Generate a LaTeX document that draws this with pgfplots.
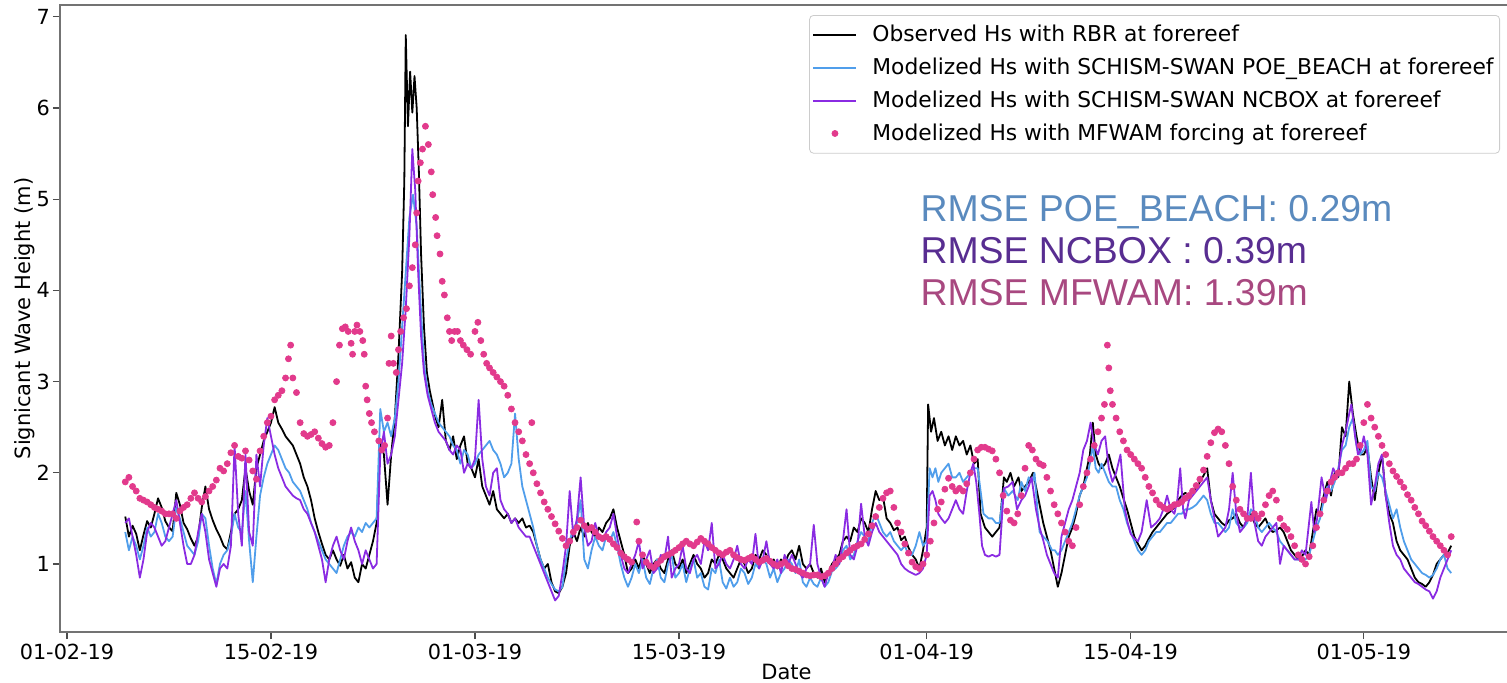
\documentclass[border=0pt]{standalone}
\usepackage{fontspec}
\setmainfont{DejaVu Sans}
\newfontfamily\rmsefont{Liberation Sans}
\usepackage{pgfplots}
\pgfplotsset{compat=1.18}
\definecolor{poe}{RGB}{80,158,235}
\definecolor{ncb}{RGB}{138,43,226}
\definecolor{mfw}{RGB}{226,58,140}
\definecolor{rpoe}{RGB}{90,138,190}
\definecolor{rncb}{RGB}{88,45,145}
\definecolor{rmfw}{RGB}{168,72,128}
\begin{document}
\begin{tikzpicture}
\begin{axis}[
  scale only axis,
  width=726.5pt, height=313.5pt,
  xmin=-0.48, xmax=99.24,
  ymin=0.254, ymax=7.13,
  xtick={0,14,28,42,59,73,89},
  xticklabels={01-02-19,15-02-19,01-03-19,15-03-19,01-04-19,15-04-19,01-05-19},
  ytick={1,2,3,4,5,6,7},
  tick align=outside,
  tick pos=left,
  major tick length=3.5pt,
  tick style={black!70, line width=0.6pt},
  axis line style={black!55, line width=0.8pt},
  ticklabel style={font=\fontsize{10.4}{12}\selectfont},
  yticklabel style={xshift=2pt},
  xticklabel style={yshift=1pt},
  /pgf/number format/assume math mode=true,
  xlabel={Date},
  ylabel={Signicant Wave Height (m)},
  label style={font=\fontsize{10.5}{12}\selectfont},
  xlabel style={at={(axis description cs:0.5,-0.0638)}, anchor=center},
  ylabel style={at={(axis description cs:-0.0245,0.5)}, anchor=center},
  legend style={at={(1,1)}, anchor=north east, xshift=-6.5pt, yshift=-5pt,
    draw=black!20, rounded corners=2pt, fill=white,
    font=\fontsize{10.9}{13}\selectfont, row sep=2.6pt, inner xsep=1.5pt, inner ysep=3pt,
    nodes={inner xsep=1.5pt},
    /tikz/every odd column/.append style={column sep=6pt}},
  legend cell align=left,
  legend image code/.code={\draw[mark repeat=2,mark phase=2,#1] plot coordinates {(0pt,0pt) (10.75pt,0pt) (21.5pt,0pt)};},
]
\addplot[black, line width=0.9pt, line join=round] table {
4.0 1.52
4.25 1.30
4.5 1.42
4.75 1.33
5.0 1.15
5.25 1.32
5.5 1.47
5.75 1.40
6.0 1.55
6.25 1.72
6.5 1.62
6.75 1.47
7.0 1.40
7.25 1.36
7.5 1.78
7.75 1.65
8.0 1.45
8.25 1.38
8.5 1.28
8.75 1.20
9.0 1.30
9.25 1.62
9.5 1.85
9.75 1.60
10.0 1.48
10.25 1.38
10.5 1.30
10.75 1.20
11.0 1.16
11.25 1.35
11.5 1.55
11.75 1.60
12.0 1.70
12.25 2.05
12.5 1.80
12.75 1.65
13.0 2.05
13.25 2.20
13.5 2.35
13.75 2.45
14.0 2.55
14.25 2.72
14.5 2.55
14.75 2.48
15.0 2.40
15.25 2.35
15.5 2.30
15.75 2.20
16.0 2.10
16.25 1.95
16.5 1.85
16.75 1.70
17.0 1.50
17.25 1.35
17.5 1.22
17.75 1.10
18.0 1.05
18.25 1.15
18.5 1.05
18.75 0.98
19.0 1.10
19.25 0.95
19.5 1.02
19.75 0.85
20.0 0.80
20.25 1.00
20.5 0.95
20.75 1.10
21.0 1.25
21.25 1.45
21.5 2.35
21.75 2.20
22.0 1.65
22.25 2.20
22.5 2.60
22.75 3.30
23.0 4.20
23.15 5.20
23.25 6.80
23.4 5.80
23.55 6.40
23.7 5.95
23.85 6.35
24.0 6.00
24.15 5.30
24.3 4.40
24.5 3.60
24.7 3.10
24.9 2.90
25.1 2.75
25.3 2.60
25.5 2.50
25.75 2.80
26.0 2.35
26.25 2.25
26.5 2.40
26.75 2.15
27.0 2.30
27.25 2.40
27.5 2.10
27.75 2.05
28.0 1.95
28.25 2.15
28.5 1.85
28.75 1.75
29.0 1.65
29.25 1.80
29.5 1.60
29.75 1.55
30.0 1.50
30.25 1.55
30.5 1.45
30.75 1.50
31.0 1.45
31.25 1.50
31.5 1.40
31.75 1.42
32.0 1.35
32.25 1.20
32.5 1.05
32.75 0.95
33.0 1.00
33.25 0.80
33.5 0.70
33.75 0.68
34.0 0.75
34.25 0.90
34.5 1.20
34.75 1.35
35.0 1.25
35.25 1.40
35.5 1.30
35.75 1.45
36.0 1.35
36.25 1.30
36.5 1.40
36.75 1.35
37.0 1.45
37.25 1.50
37.5 1.60
37.75 1.40
38.0 1.25
38.25 1.10
38.5 0.90
38.75 0.95
39.0 1.05
39.25 0.95
39.5 1.10
39.75 1.00
40.0 0.90
40.25 1.00
40.5 1.05
40.75 0.95
41.0 0.90
41.25 1.05
41.5 1.15
41.75 1.00
42.0 0.95
42.25 1.05
42.5 0.90
42.75 1.00
43.0 1.10
43.25 1.00
43.5 0.95
43.75 0.85
44.0 0.90
44.25 1.05
44.5 1.00
44.75 1.10
45.0 1.05
45.25 0.95
45.5 0.90
45.75 0.85
46.0 0.95
46.25 1.05
46.5 1.00
46.75 0.90
47.0 0.95
47.25 1.10
47.5 1.05
47.75 1.15
48.0 1.10
48.25 1.00
48.5 1.05
48.75 0.95
49.0 1.05
49.25 1.00
49.5 1.10
49.75 1.15
50.0 1.05
50.25 1.20
50.5 1.00
50.75 0.95
51.0 1.00
51.25 0.90
51.5 0.85
51.75 0.95
52.0 0.80
52.25 0.90
52.5 1.00
52.75 1.05
53.0 1.10
53.25 1.25
53.5 1.30
53.75 1.25
54.0 1.40
54.25 1.35
54.5 1.50
54.75 1.45
55.0 1.35
55.25 1.60
55.5 1.80
55.75 1.70
56.0 1.74
56.25 1.50
56.5 1.45
56.75 1.37
57.0 1.40
57.25 1.26
57.5 1.30
57.75 1.18
58.0 1.10
58.25 1.05
58.5 0.95
58.75 1.15
59.0 1.40
59.1 2.75
59.3 2.45
59.5 2.60
59.75 2.35
60.0 2.45
60.25 2.30
60.5 2.40
60.75 2.25
61.0 2.40
61.25 2.30
61.5 2.35
61.75 2.20
62.0 2.30
62.25 2.10
62.5 2.15
62.7 1.55
63.0 1.40
63.25 1.35
63.5 1.30
63.75 1.35
64.0 1.40
64.3 1.95
64.5 1.90
64.75 2.00
65.0 1.85
65.3 1.95
65.5 1.80
65.75 1.85
66.0 1.90
66.3 2.00
66.5 1.85
66.75 1.65
67.0 1.45
67.25 1.30
67.5 1.15
67.75 0.95
68.0 0.75
68.25 0.90
68.5 1.10
68.75 1.30
69.0 1.40
69.25 1.55
69.5 1.75
69.75 1.85
70.0 2.05
70.2 2.20
70.4 2.55
70.6 2.20
70.8 2.10
71.0 2.05
71.25 2.10
71.5 2.20
71.75 2.05
72.0 1.95
72.25 1.85
72.5 1.72
72.75 1.60
73.0 1.45
73.25 1.30
73.5 1.22
73.75 1.15
74.0 1.20
74.25 1.28
74.5 1.35
74.75 1.40
75.0 1.45
75.25 1.50
75.5 1.55
75.75 1.58
76.0 1.62
76.25 1.70
76.5 1.75
76.75 1.78
77.0 1.75
77.25 1.80
77.5 1.83
77.75 1.90
78.0 1.97
78.25 2.05
78.5 1.70
78.75 1.55
79.0 1.50
79.25 1.45
79.5 1.42
79.75 1.48
80.0 1.50
80.25 1.55
80.5 1.45
80.75 1.40
81.0 1.50
81.25 1.55
81.5 1.45
81.75 1.40
82.0 1.45
82.25 1.50
82.5 1.40
82.75 1.35
83.0 1.37
83.25 1.40
83.5 1.35
83.75 1.25
84.0 1.15
84.25 1.10
84.5 1.05
84.75 1.08
85.0 1.15
85.25 1.10
85.5 1.35
85.75 1.60
86.0 1.55
86.25 1.75
86.5 1.90
86.75 1.75
87.0 2.00
87.25 1.95
87.5 2.50
87.75 2.40
88.0 3.00
88.25 2.65
88.5 2.40
88.75 2.20
89.0 2.20
89.25 2.28
89.5 1.95
89.75 1.70
90.0 2.00
90.25 2.20
90.5 1.75
90.75 1.55
91.0 1.45
91.25 1.25
91.5 1.15
91.75 1.10
92.0 1.05
92.25 0.95
92.5 0.85
92.75 0.80
93.0 0.78
93.25 0.75
93.5 0.80
93.75 0.88
94.0 1.00
94.25 1.05
94.5 1.10
94.75 1.12
95.0 1.20
};
\addlegendentry{Observed Hs with RBR at forereef}
\addplot[poe, line width=0.9pt, line join=round] table {
4.0 1.35
4.25 1.15
4.5 1.30
4.75 1.20
5.0 1.05
5.25 1.20
5.5 1.40
5.75 1.30
6.0 1.35
6.25 1.55
6.5 1.45
6.75 1.30
7.0 1.25
7.25 1.30
7.5 1.62
7.75 1.50
8.0 1.35
8.25 1.20
8.5 1.15
8.75 1.10
9.0 1.25
9.25 1.55
9.5 1.50
9.75 1.20
10.0 0.95
10.25 0.78
10.5 1.00
10.75 1.10
11.0 1.15
11.25 1.30
11.5 1.55
11.75 1.40
12.0 1.35
12.25 1.80
12.5 1.25
12.75 0.80
13.0 1.30
13.25 1.75
13.5 1.95
13.75 2.10
14.0 2.20
14.25 2.30
14.5 2.25
14.75 2.15
15.0 2.05
15.25 2.00
15.5 1.90
15.75 1.85
16.0 1.80
16.25 1.70
16.5 1.60
16.75 1.45
17.0 1.35
17.25 1.25
17.5 1.15
17.75 1.05
18.0 1.00
18.25 0.95
18.5 0.90
18.75 1.05
19.0 1.20
19.25 1.30
19.5 1.35
19.75 1.30
20.0 1.40
20.25 1.35
20.5 1.45
20.75 1.40
21.0 1.45
21.25 1.50
21.5 2.70
21.75 2.45
22.0 2.55
22.25 2.40
22.5 2.60
22.75 3.00
23.0 3.60
23.25 4.20
23.5 4.80
23.75 5.05
24.0 4.70
24.25 3.90
24.5 3.20
24.75 2.90
25.0 2.75
25.25 2.65
25.5 2.55
25.75 2.50
26.0 2.45
26.25 2.40
26.5 2.30
26.75 2.25
27.0 2.10
27.25 2.25
27.5 2.20
27.75 2.05
28.0 2.10
28.25 2.20
28.5 2.25
28.75 2.30
29.0 2.35
29.25 2.25
29.5 2.20
29.75 2.10
30.0 1.95
30.25 2.00
30.5 2.10
30.75 2.65
31.0 2.15
31.25 1.85
31.5 1.70
31.75 1.55
32.0 1.40
32.25 1.20
32.5 1.05
32.75 0.95
33.0 0.85
33.25 0.78
33.5 0.72
33.75 0.70
34.0 0.75
34.25 1.05
34.5 1.25
34.75 1.40
35.0 1.45
35.25 1.70
35.5 1.05
35.75 0.95
36.0 1.15
36.25 1.30
36.5 1.20
36.75 1.15
37.0 1.30
37.25 1.25
37.5 1.35
37.75 1.20
38.0 1.00
38.25 0.85
38.5 0.75
38.75 0.85
39.0 1.00
39.25 0.90
39.5 1.05
39.75 0.85
40.0 0.78
40.25 0.95
40.5 1.05
40.75 0.85
41.0 0.80
41.25 1.00
41.5 1.10
41.75 0.85
42.0 0.90
42.25 1.00
42.5 0.80
42.75 0.95
43.0 1.05
43.25 0.85
43.5 0.90
43.75 0.75
44.0 0.72
44.25 0.95
44.5 0.90
44.75 1.05
45.0 0.80
45.25 0.73
45.5 0.85
45.75 0.75
46.0 0.80
46.25 0.95
46.5 0.90
46.75 0.78
47.0 0.85
47.25 1.00
47.5 0.95
47.75 1.05
48.0 1.00
48.25 0.85
48.5 0.95
48.75 0.80
49.0 0.90
49.25 0.95
49.5 1.05
49.75 1.00
50.0 0.90
50.25 1.05
50.5 0.80
50.75 0.75
51.0 0.85
51.25 0.78
51.5 0.75
51.75 0.85
52.0 0.75
52.25 0.80
52.5 0.92
52.75 0.95
53.0 1.00
53.25 1.15
53.5 1.20
53.75 1.05
54.0 1.10
54.25 1.25
54.5 1.35
54.75 1.30
55.0 1.25
55.25 1.45
55.5 1.55
55.75 1.45
56.0 1.35
56.25 1.30
56.5 1.35
56.75 1.25
57.0 1.20
57.25 1.15
57.5 1.20
57.75 1.10
58.0 1.10
58.25 1.20
58.5 1.35
58.75 1.20
59.0 1.25
59.2 2.05
59.4 1.95
59.6 2.05
59.8 1.90
60.0 2.00
60.25 2.05
60.5 2.10
60.75 1.95
61.0 1.95
61.25 2.00
61.5 1.90
61.75 1.95
62.0 2.00
62.25 2.05
62.5 2.05
62.7 1.80
62.9 1.55
63.25 1.50
63.5 1.50
63.75 1.45
64.0 1.45
64.3 1.83
64.6 1.75
64.9 1.80
65.25 1.70
65.5 1.90
65.75 1.80
66.0 1.95
66.25 1.90
66.4 2.00
66.6 1.60
66.75 1.35
67.0 1.30
67.3 1.25
67.6 1.15
67.8 1.15
68.0 1.10
68.25 1.15
68.5 1.25
68.75 1.35
69.0 1.45
69.25 1.60
69.5 1.75
69.75 1.85
70.0 1.95
70.2 2.10
70.4 2.30
70.6 2.05
70.8 2.00
71.0 2.10
71.25 2.00
71.5 1.90
71.75 1.85
72.0 1.85
72.25 1.70
72.5 1.60
72.75 1.45
73.0 1.35
73.25 1.25
73.5 1.15
73.75 1.10
74.0 1.15
74.25 1.25
74.5 1.30
74.75 1.35
75.0 1.35
75.25 1.40
75.5 1.45
75.75 1.45
76.0 1.50
76.25 1.55
76.5 1.55
76.75 1.60
77.0 1.60
77.25 1.62
77.5 1.65
77.75 1.70
78.0 1.75
78.25 1.70
78.5 1.55
78.75 1.45
79.0 1.45
79.25 1.40
79.5 1.35
79.75 1.40
80.0 1.60
80.25 1.45
80.5 1.40
80.75 1.40
81.0 1.45
81.25 1.60
81.5 1.55
81.75 1.40
82.0 1.35
82.25 1.40
82.5 1.45
82.75 1.40
83.0 1.35
83.25 1.25
83.5 1.20
83.75 1.15
84.0 1.10
84.25 1.05
84.5 1.05
84.75 1.03
85.0 1.05
85.25 1.10
85.5 1.25
85.75 1.40
86.0 1.50
86.25 1.70
86.5 1.85
86.75 1.80
87.0 1.90
87.25 2.05
87.5 2.25
87.75 2.30
88.0 2.50
88.25 2.60
88.5 2.30
88.75 2.20
89.0 2.25
89.25 2.35
89.5 1.85
89.75 1.80
90.0 2.00
90.25 1.95
90.5 1.80
90.75 1.65
91.0 1.50
91.25 1.60
91.5 1.40
91.75 1.25
92.0 1.15
92.25 1.05
92.5 1.00
92.75 0.95
93.0 0.90
93.25 0.88
93.5 0.85
93.75 0.88
94.0 0.95
94.25 1.05
94.5 1.10
94.75 0.95
95.0 0.90
};
\addlegendentry{Modelized Hs with SCHISM-SWAN POE\_BEACH at forereef}
\addplot[ncb, line width=0.9pt, line join=round] table {
4.0 1.45
4.25 1.50
4.5 1.30
4.75 1.10
5.0 0.85
5.25 1.05
5.5 1.35
5.75 1.45
6.0 1.40
6.25 1.30
6.5 1.20
6.75 1.25
7.0 1.40
7.25 1.55
7.5 1.70
7.75 1.45
8.0 1.20
8.25 1.00
8.5 1.00
8.75 1.10
9.0 1.35
9.25 1.55
9.5 1.35
9.75 1.05
10.0 0.90
10.25 0.75
10.5 0.95
10.75 1.00
11.0 0.95
11.25 1.20
11.5 2.30
11.75 1.55
12.0 1.20
12.25 2.20
12.5 1.35
12.75 1.20
13.0 2.20
13.25 1.85
13.5 2.30
13.75 2.60
14.0 2.40
14.25 2.20
14.5 2.05
14.75 1.95
15.0 1.85
15.25 1.80
15.5 1.75
15.75 1.72
16.0 1.70
16.25 1.60
16.5 1.55
16.75 1.45
17.0 1.35
17.25 1.20
17.5 1.05
17.75 0.80
18.0 1.05
18.25 1.20
18.5 1.30
18.75 1.15
19.0 1.05
19.25 1.25
19.5 1.40
19.75 1.25
20.0 1.15
20.25 1.00
20.5 1.15
20.75 1.05
21.0 0.95
21.25 1.00
21.5 2.20
21.75 2.45
22.0 2.10
22.25 2.20
22.5 2.40
22.75 2.80
23.0 3.20
23.25 3.80
23.5 4.60
23.7 5.55
23.9 5.10
24.1 4.20
24.3 3.50
24.5 3.10
24.75 2.85
25.0 2.70
25.25 2.55
25.5 2.45
25.75 2.40
26.0 2.35
26.25 2.25
26.5 2.20
26.75 2.30
27.0 2.25
27.25 2.00
27.5 2.10
27.75 2.05
28.0 2.15
28.25 2.80
28.5 2.15
28.75 1.85
29.0 1.75
29.25 2.00
29.5 2.05
29.75 1.70
30.0 1.60
30.25 1.55
30.5 1.45
30.75 1.50
31.0 1.40
31.25 1.35
31.5 1.30
31.75 1.30
32.0 1.20
32.25 1.10
32.5 1.00
32.75 0.90
33.0 0.80
33.25 0.70
33.5 0.60
33.75 0.65
34.0 0.90
34.25 1.20
34.5 1.80
34.75 1.30
35.0 1.50
35.25 1.95
35.5 1.40
35.75 1.20
36.0 1.25
36.25 1.45
36.5 1.30
36.75 1.25
37.0 1.35
37.25 1.40
37.5 1.55
37.75 1.30
38.0 1.10
38.25 0.95
38.5 0.90
38.75 1.00
39.0 1.10
39.25 1.25
39.5 0.95
39.75 1.05
40.0 1.15
40.25 0.90
40.5 0.95
40.75 1.10
41.0 1.05
41.25 1.30
41.5 0.85
41.75 0.95
42.0 1.00
42.25 1.20
42.5 0.95
42.75 0.90
43.0 1.05
43.25 1.10
43.5 1.00
43.75 1.25
44.0 1.15
44.25 1.45
44.5 0.95
44.75 1.00
45.0 1.10
45.25 1.00
45.5 0.95
45.75 1.05
46.0 1.20
46.25 1.00
46.5 0.95
46.75 1.05
47.0 1.00
47.25 1.33
47.5 0.95
47.75 1.05
48.0 1.25
48.25 1.00
48.5 0.95
48.75 1.05
49.0 0.90
49.25 1.10
49.5 1.00
49.75 1.10
50.0 1.00
50.25 0.90
50.5 0.85
50.75 0.95
51.0 1.00
51.25 1.43
51.5 1.00
51.75 0.85
52.0 0.75
52.25 0.90
52.5 0.95
52.75 1.10
53.0 1.00
53.25 1.25
53.5 1.60
53.75 1.10
54.0 1.05
54.25 1.20
54.5 1.66
54.75 1.30
55.0 1.20
55.25 1.35
55.5 1.45
55.75 1.35
56.0 1.30
56.25 1.25
56.5 1.20
56.75 1.15
57.0 1.10
57.25 1.00
57.5 0.95
57.75 0.92
58.0 0.90
58.25 0.88
58.5 0.90
58.75 0.95
59.0 1.10
59.2 1.75
59.4 1.80
59.6 1.70
59.8 1.55
60.0 1.50
60.25 1.45
60.5 1.50
60.75 1.60
61.0 1.70
61.25 1.60
61.5 1.55
61.75 1.80
62.0 2.00
62.2 2.10
62.4 1.90
62.6 1.58
62.8 1.20
63.0 1.10
63.25 1.08
63.5 1.10
63.75 1.08
64.0 1.10
64.3 1.83
64.6 1.85
64.9 1.90
65.2 1.60
65.5 1.70
65.75 1.75
66.0 1.85
66.2 1.95
66.5 1.60
66.75 1.40
67.0 1.26
67.25 1.10
67.5 1.00
67.75 0.90
68.0 0.85
68.25 1.30
68.5 1.45
68.75 1.60
69.0 1.70
69.25 1.85
69.5 2.00
69.75 2.25
70.0 2.35
70.25 2.55
70.5 2.30
70.75 2.20
71.0 2.35
71.25 2.40
71.5 2.05
71.75 1.90
72.0 2.00
72.3 2.20
72.6 1.60
72.8 1.45
73.0 1.33
73.25 1.28
73.5 1.25
73.75 1.35
74.1 1.70
74.4 1.40
74.75 1.45
75.0 1.50
75.25 1.60
75.5 1.75
75.75 1.60
76.0 1.55
76.2 1.70
76.4 2.05
76.6 1.60
76.75 1.50
77.0 1.70
77.25 1.75
77.5 1.80
77.75 1.85
78.0 1.90
78.25 1.95
78.5 1.70
78.75 1.50
79.0 1.30
79.25 1.35
79.5 1.40
79.75 1.60
80.0 2.00
80.25 1.55
80.5 1.35
80.75 1.40
81.0 1.50
81.25 2.00
81.5 1.45
81.75 1.25
82.0 1.20
82.25 1.30
82.5 1.35
82.75 1.40
83.0 1.45
83.25 1.00
83.5 1.20
83.75 1.15
84.0 1.10
84.25 1.05
84.5 1.05
84.75 1.15
85.0 1.10
85.4 1.68
85.6 1.35
85.8 1.50
86.1 1.95
86.4 1.70
86.6 1.85
86.9 2.05
87.2 1.95
87.5 2.30
87.75 2.45
88.0 2.65
88.15 2.75
88.4 2.40
88.6 2.20
88.8 2.25
89.0 2.40
89.25 2.20
89.5 1.65
89.75 1.85
90.0 2.10
90.25 2.20
90.5 1.75
90.75 1.45
91.0 1.20
91.25 1.10
91.5 1.05
91.75 0.95
92.0 0.90
92.25 0.85
92.5 0.80
92.75 0.78
93.0 0.75
93.25 0.72
93.5 0.70
93.75 0.62
94.0 0.70
94.25 0.85
94.5 0.95
94.75 1.05
95.0 1.15
};
\addlegendentry{Modelized Hs with SCHISM-SWAN NCBOX at forereef}
\addplot[only marks, mark=*, mark size=1.5pt, mfw, mark options={draw=none, fill=mfw}] table {
4.0 1.90
4.25 1.95
4.5 1.85
4.75 1.80
5.0 1.72
5.25 1.70
5.5 1.68
5.75 1.65
6.0 1.62
6.25 1.60
6.5 1.58
6.75 1.55
7.0 1.55
7.25 1.55
7.5 1.50
7.75 1.58
8.0 1.62
8.25 1.65
8.5 1.72
8.75 1.78
9.0 1.72
9.25 1.68
9.5 1.74
9.75 1.80
10.0 1.85
10.25 1.92
10.5 2.05
10.75 2.02
11.0 2.10
11.25 2.22
11.5 2.30
11.75 2.18
12.0 2.16
12.25 2.24
12.5 2.14
12.75 2.02
13.0 1.93
13.25 2.24
13.5 2.40
13.75 2.55
14.0 2.62
14.25 2.80
14.5 2.85
14.75 2.90
15.0 3.04
15.2 3.25
15.35 3.40
15.5 3.04
15.75 2.88
16.0 2.55
16.25 2.43
16.5 2.40
16.75 2.42
17.0 2.45
17.25 2.38
17.5 2.32
17.75 2.28
18.0 2.30
18.25 2.55
18.5 3.00
18.7 3.40
18.9 3.58
19.1 3.60
19.3 3.55
19.5 3.42
19.6 3.30
19.75 3.55
19.9 3.62
20.1 3.55
20.3 3.45
20.4 3.30
20.5 2.95
20.6 2.80
20.75 2.65
20.9 2.55
21.1 2.45
21.4 2.35
21.6 2.25
21.8 2.30
22.0 2.60
22.1 3.20
22.25 3.50
22.4 3.20
22.6 3.10
22.75 3.35
22.9 3.55
23.1 3.70
23.3 3.80
23.5 4.05
23.7 4.25
23.9 4.50
24.0 4.85
24.1 5.20
24.25 5.40
24.4 5.55
24.6 5.80
24.8 5.60
25.0 5.30
25.1 5.05
25.3 4.80
25.4 4.60
25.6 4.40
25.75 4.10
25.9 3.95
26.1 3.70
26.25 3.55
26.4 3.45
26.6 3.55
26.8 3.55
27.0 3.45
27.2 3.40
27.45 3.35
27.7 3.30
28.0 3.55
28.2 3.65
28.4 3.45
28.6 3.30
28.8 3.20
29.0 3.15
29.25 3.10
29.5 3.05
29.75 3.00
30.0 2.95
30.25 2.85
30.5 2.70
30.75 2.55
31.0 2.45
31.25 2.35
31.5 2.20
31.75 2.10
31.9 2.55
32.0 2.00
32.25 1.88
32.5 1.78
32.75 1.68
33.0 1.60
33.25 1.52
33.5 1.44
33.75 1.36
34.0 1.28
34.25 1.20
34.5 1.25
34.75 1.35
35.0 1.40
35.25 1.48
35.5 1.42
35.75 1.38
36.0 1.40
36.25 1.35
36.5 1.30
36.75 1.28
37.0 1.30
37.25 1.27
37.5 1.22
37.75 1.18
38.0 1.12
38.25 1.08
38.5 1.05
38.75 1.02
39.1 1.46
39.25 1.25
39.5 1.10
39.75 1.02
40.0 0.98
40.25 0.96
40.5 1.00
40.75 1.04
41.0 1.08
41.25 1.10
41.5 1.12
41.75 1.15
42.0 1.18
42.25 1.22
42.5 1.25
42.75 1.22
43.0 1.20
43.25 1.24
43.5 1.28
43.75 1.25
44.0 1.22
44.25 1.18
44.5 1.15
44.75 1.12
45.0 1.10
45.25 1.13
45.5 1.15
45.75 1.10
46.0 1.07
46.25 1.05
46.5 1.04
46.75 1.06
47.0 1.08
47.25 1.05
47.5 1.02
47.75 1.04
48.0 1.06
48.25 1.03
48.5 1.00
48.75 0.98
49.0 1.00
49.25 1.02
49.5 0.98
49.75 0.95
50.0 0.94
50.25 0.92
50.5 0.90
50.75 0.88
51.0 0.87
51.25 0.88
51.5 0.88
51.75 0.86
52.0 0.87
52.25 0.90
52.5 0.95
52.75 1.00
53.0 1.05
53.25 1.08
53.5 1.12
53.75 1.15
54.0 1.18
54.25 1.20
54.5 1.22
54.75 1.27
55.0 1.33
55.25 1.42
55.5 1.52
55.75 1.62
56.0 1.72
56.25 1.78
56.5 1.80
56.75 1.62
57.0 1.45
57.25 1.35
57.5 1.22
57.75 1.12
58.0 1.02
58.25 0.97
58.5 0.95
58.75 1.00
59.0 1.10
59.25 1.25
59.5 1.45
59.75 1.60
60.0 1.68
60.25 1.82
60.5 1.94
60.75 1.85
61.0 1.80
61.25 1.83
61.5 1.80
61.75 1.88
62.0 2.00
62.25 2.15
62.5 2.25
62.75 2.28
63.0 2.28
63.25 2.26
63.5 2.24
63.75 2.15
64.0 2.00
64.25 1.75
64.5 1.58
64.75 1.48
65.0 1.45
65.25 1.55
65.5 1.75
65.75 2.05
66.0 2.30
66.25 2.25
66.5 2.15
66.75 2.10
67.0 2.08
67.25 1.95
67.5 1.80
67.75 1.65
68.0 1.55
68.25 1.45
68.5 1.35
68.75 1.25
69.0 1.20
69.25 1.40
69.5 1.65
69.75 1.85
70.0 2.00
70.25 2.15
70.5 2.30
70.75 2.45
71.0 2.60
71.2 2.75
71.4 3.40
71.5 3.15
71.6 2.90
71.75 2.75
72.0 2.60
72.25 2.45
72.5 2.35
72.75 2.25
73.0 2.20
73.25 2.15
73.5 2.10
73.75 2.05
74.0 1.95
74.25 1.85
74.5 1.78
74.75 1.70
75.0 1.65
75.25 1.62
75.5 1.60
75.75 1.62
76.0 1.65
76.25 1.66
76.5 1.68
76.75 1.72
77.0 1.75
77.25 1.80
77.5 1.86
77.75 1.93
78.0 2.03
78.25 2.18
78.5 2.33
78.75 2.44
79.0 2.48
79.25 2.45
79.5 2.30
79.75 2.10
80.0 1.85
80.25 1.70
80.5 1.60
80.75 1.55
81.0 1.50
81.25 1.50
81.5 1.55
81.75 1.50
82.0 1.55
82.25 1.65
82.5 1.75
82.75 1.80
83.0 1.70
83.25 1.50
83.5 1.42
83.75 1.38
84.0 1.30
84.25 1.20
84.5 1.10
84.75 1.05
85.0 1.00
85.25 1.08
85.5 1.20
85.75 1.40
86.0 1.55
86.25 1.70
86.5 1.80
86.75 1.90
87.0 1.95
87.25 2.00
87.5 2.00
87.75 2.05
88.0 2.10
88.25 2.10
88.5 2.15
88.75 2.30
89.0 2.55
89.25 2.75
89.5 2.60
89.75 2.50
90.0 2.40
90.25 2.30
90.5 2.20
90.75 2.10
91.0 2.02
91.25 1.96
91.5 1.90
91.75 1.84
92.0 1.76
92.25 1.70
92.5 1.62
92.75 1.55
93.0 1.47
93.25 1.42
93.5 1.36
93.75 1.30
94.0 1.25
94.25 1.20
94.5 1.15
94.75 1.10
95.0 1.30
};
\addlegendentry{Modelized Hs with MFWAM forcing at forereef}
\node[anchor=base west, inner sep=0pt, text=rpoe, font=\rmsefont\fontsize{18.7}{22}\selectfont] at (rel axis cs:0.592,0.654) {RMSE POE\_BEACH: 0.29m};
\node[anchor=base west, inner sep=0pt, text=rncb, font=\rmsefont\fontsize{18.7}{22}\selectfont] at (rel axis cs:0.592,0.587) {RMSE NCBOX : 0.39m};
\node[anchor=base west, inner sep=0pt, text=rmfw, font=\rmsefont\fontsize{18.7}{22}\selectfont] at (rel axis cs:0.592,0.520) {RMSE MFWAM: 1.39m};
\end{axis}
\pgfresetboundingbox
\path[use as bounding box] ([xshift=-30pt,yshift=-25pt]current axis.south west) rectangle ([xshift=-3pt,yshift=2.5pt]current axis.north east);
\end{tikzpicture}
\end{document}
